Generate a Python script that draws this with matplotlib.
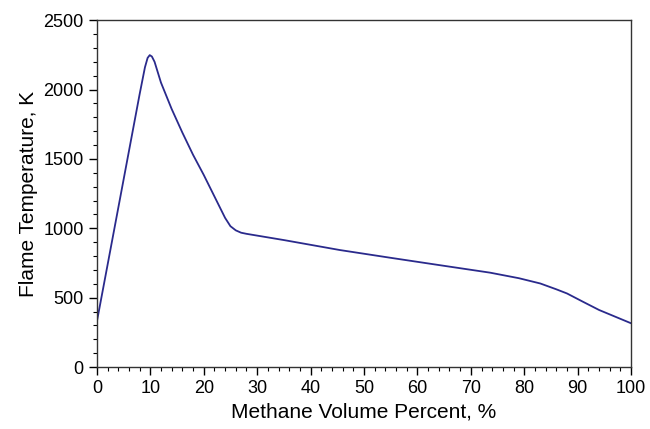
import matplotlib
matplotlib.use("Agg")
import matplotlib.pyplot as plt
from matplotlib.ticker import MultipleLocator

methane_pct = [0, 2, 4, 6, 8, 9, 9.5, 9.9, 10.3, 10.8, 12, 14, 16, 18, 20, 22, 24, 25, 26, 27, 28,
               35, 45.5, 55, 64, 73.6, 79, 83, 86, 88, 91, 94, 97, 100]
flame_temp = [326, 735, 1145, 1555, 1965, 2160, 2228, 2248, 2238, 2200, 2050, 1860, 1690, 1530, 1385, 1230, 1075, 1015, 985, 968, 960,
              915, 843, 787, 735, 680, 640, 602, 560, 530, 470, 411, 363, 315]

plt.rcParams['font.family'] = ['Liberation Sans', 'DejaVu Sans']

fig = plt.figure(figsize=(6.5, 4.29), dpi=100)
ax = fig.add_axes([0.149, 0.1445, 0.822, 0.8085])
ax.plot(methane_pct, flame_temp, color='#2a2a8c', lw=1.3)

ax.set_xlim(0, 100)
ax.set_ylim(0, 2500)
ax.xaxis.set_major_locator(MultipleLocator(10))
ax.xaxis.set_minor_locator(MultipleLocator(2))
ax.yaxis.set_major_locator(MultipleLocator(500))
ax.yaxis.set_minor_locator(MultipleLocator(100))
ax.tick_params(which='major', direction='out', length=6, width=1, labelsize=13, top=False, right=False)
ax.tick_params(which='minor', direction='out', length=3, width=0.8, top=False, right=False)
for s in ax.spines.values():
    s.set_linewidth(1)
    s.set_color('#333333')

ax.set_xlabel('Methane Volume Percent, %', fontsize=15)
ax.set_ylabel('Flame Temperature, K', fontsize=15)

fig.savefig('out.png', dpi=100)
